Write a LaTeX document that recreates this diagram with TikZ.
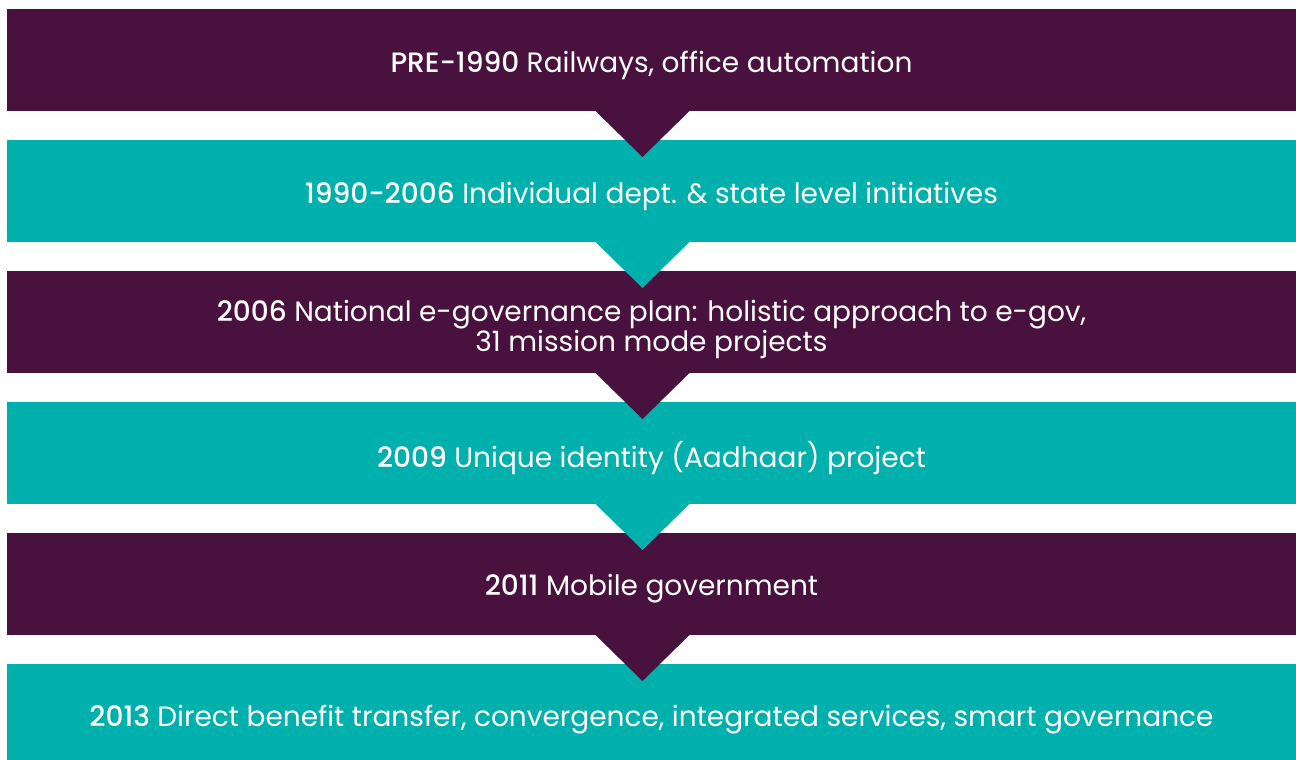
\documentclass[tikz,border=0pt]{standalone}
\usepackage{fontspec}
\setmainfont{Poppins}[BoldFont={Poppins Medium}]
\usetikzlibrary{positioning, calc}
\definecolor{egovpurple}{RGB}{73,17,61}
\definecolor{egovteal}{RGB}{0,176,172}
\tikzset{
  stage/.style={
    minimum width=644.5pt, minimum height=51pt,
    inner sep=0pt, outer sep=0pt
  },
  purplestage/.style={stage, fill=egovpurple},
  tealstage/.style={stage, fill=egovteal},
  stagetext/.style={
    inner sep=0pt, align=center, text=white,
    font=\fontsize{14}{15}\selectfont
  },
}

\begin{document}
\begin{tikzpicture}[x=0.5pt, y=-0.5pt, node distance=14.5pt]
  \useasboundingbox (0,0) rectangle (1296,760);

  \node[purplestage] (pre) at (651.5,60) {};
  \node[tealstage, below=of pre] (indiv) {};
  \node[purplestage, below=of indiv] (negp) {};
  \node[tealstage, below=of negp] (aadhaar) {};
  \node[purplestage, below=of aadhaar] (mobile) {};
  \node[tealstage, below=of mobile] (dbt) {};

  % chevrons from one stage into the next
  \fill[egovpurple] ($(pre.south)+(-56,0)$) -- ($(pre.south)+(38,0)$) -- ($(pre.south)+(-9,46)$) -- cycle;
  \fill[egovteal] ($(indiv.south)+(-56,0)$) -- ($(indiv.south)+(38,0)$) -- ($(indiv.south)+(-9,46)$) -- cycle;
  \fill[egovpurple] ($(negp.south)+(-56,0)$) -- ($(negp.south)+(38,0)$) -- ($(negp.south)+(-9,46)$) -- cycle;
  \fill[egovteal] ($(aadhaar.south)+(-56,0)$) -- ($(aadhaar.south)+(38,0)$) -- ($(aadhaar.south)+(-9,46)$) -- cycle;
  \fill[egovpurple] ($(mobile.south)+(-56,0)$) -- ($(mobile.south)+(38,0)$) -- ($(mobile.south)+(-9,46)$) -- cycle;

  \node[stagetext] (pre-text) at ([yshift=-2.5pt]pre.center) {\textbf{PRE-1990} Railways, office automation};
  \node[stagetext] (indiv-text) at ([yshift=-2.5pt]indiv.center) {\textbf{1990-2006} Individual dept. \& state level initiatives};
  \node[stagetext] (negp-text) at ([yshift=-3.5pt]negp.center) {\textbf{2006} National e-governance plan: holistic approach to e-gov,\\31 mission mode projects};
  \node[stagetext] (aadhaar-text) at ([yshift=-2.5pt]aadhaar.center) {\textbf{2009} Unique identity (Aadhaar) project};
  \node[stagetext] (mobile-text) at ([yshift=-2.5pt]mobile.center) {\textbf{2011} Mobile government};
  \node[stagetext] (dbt-text) at ([yshift=-2.5pt]dbt.center) {\textbf{2013} Direct benefit transfer, convergence, integrated services, smart governance};
\end{tikzpicture}
\end{document}
